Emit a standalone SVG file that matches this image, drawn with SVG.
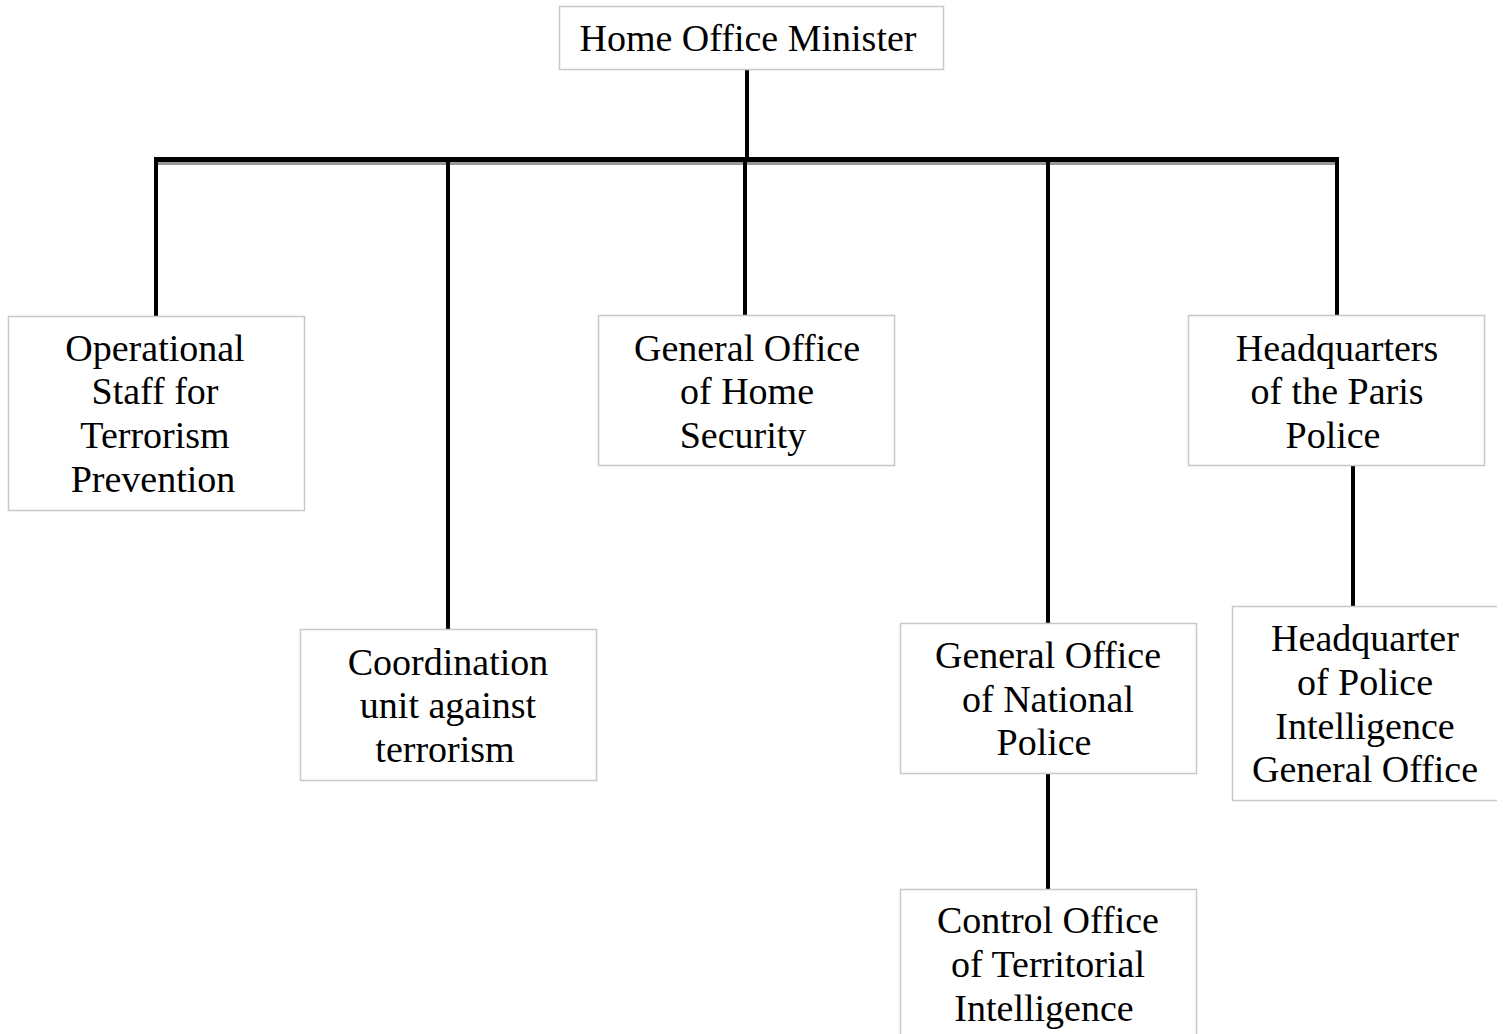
<svg xmlns="http://www.w3.org/2000/svg" width="1503" height="1034" viewBox="0 0 1503 1034">
<style>
.box{fill:#fff;stroke:#c8c8c8;stroke-width:1.5}
.t{font-family:"Liberation Serif","Times New Roman",serif;font-size:38px;fill:#000;text-anchor:middle}
.ln{stroke:#000;stroke-width:4;fill:none}
</style>
<rect width="1503" height="1034" fill="#fff"/>
<g id="connectors">
<line class="ln" x1="747" y1="70" x2="747" y2="160"/>
<rect x="154" y="162" width="1185" height="3" fill="#999"/>
<rect x="154" y="157" width="1185" height="5" fill="#000"/>
<line class="ln" x1="156" y1="158" x2="156" y2="316"/>
<line class="ln" x1="448" y1="158" x2="448" y2="629"/>
<line class="ln" x1="745" y1="158" x2="745" y2="315"/>
<line class="ln" x1="1048" y1="158" x2="1048" y2="623"/>
<line class="ln" x1="1337" y1="158" x2="1337" y2="315"/>
<line class="ln" x1="1048" y1="773" x2="1048" y2="889"/>
<line class="ln" x1="1353" y1="465" x2="1353" y2="607"/>
</g>
<g id="n-minister">
<rect class="box" x="559.5" y="6.5" width="384" height="63"/>
<text class="t" x="748" y="51">Home Office Minister</text>
</g>
<g id="n-operational">
<rect class="box" x="8.5" y="316.5" width="296" height="194"/>
<text class="t" x="155" y="361">Operational</text>
<text class="t" x="155" y="404">Staff for</text>
<text class="t" x="155" y="448">Terrorism</text>
<text class="t" x="153" y="492">Prevention</text>
</g>
<g id="n-coordination">
<rect class="box" x="300.5" y="629.5" width="296" height="151"/>
<text class="t" x="448" y="675">Coordination</text>
<text class="t" x="448" y="718">unit against</text>
<text class="t" x="445" y="762">terrorism</text>
</g>
<g id="n-homesecurity">
<rect class="box" x="598.5" y="315.5" width="296" height="150"/>
<text class="t" x="747" y="361">General Office</text>
<text class="t" x="747" y="404">of Home</text>
<text class="t" x="743" y="448">Security</text>
</g>
<g id="n-nationalpolice">
<rect class="box" x="900.5" y="623.5" width="296" height="150"/>
<text class="t" x="1048" y="668">General Office</text>
<text class="t" x="1048" y="712">of National</text>
<text class="t" x="1044" y="755">Police</text>
</g>
<g id="n-territorial">
<rect class="box" x="900.5" y="889.5" width="296" height="160"/>
<text class="t" x="1048" y="933">Control Office</text>
<text class="t" x="1048" y="977">of Territorial</text>
<text class="t" x="1044" y="1021">Intelligence</text>
</g>
<g id="n-paris">
<rect class="box" x="1188.5" y="315.5" width="296" height="150"/>
<text class="t" x="1337" y="361">Headquarters</text>
<text class="t" x="1337" y="404">of the Paris</text>
<text class="t" x="1333" y="448">Police</text>
</g>
<g id="n-intelligence">
<rect x="1232.5" y="606.5" width="265" height="194" fill="#fff"/>
<path class="box" d="M1497,606.5 H1232.5 V800.5 H1497" fill="none"/>
<text class="t" x="1365" y="651">Headquarter</text>
<text class="t" x="1365" y="695">of Police</text>
<text class="t" x="1365" y="739">Intelligence</text>
<text class="t" x="1365" y="782">General Office</text>
</g>
</svg>
